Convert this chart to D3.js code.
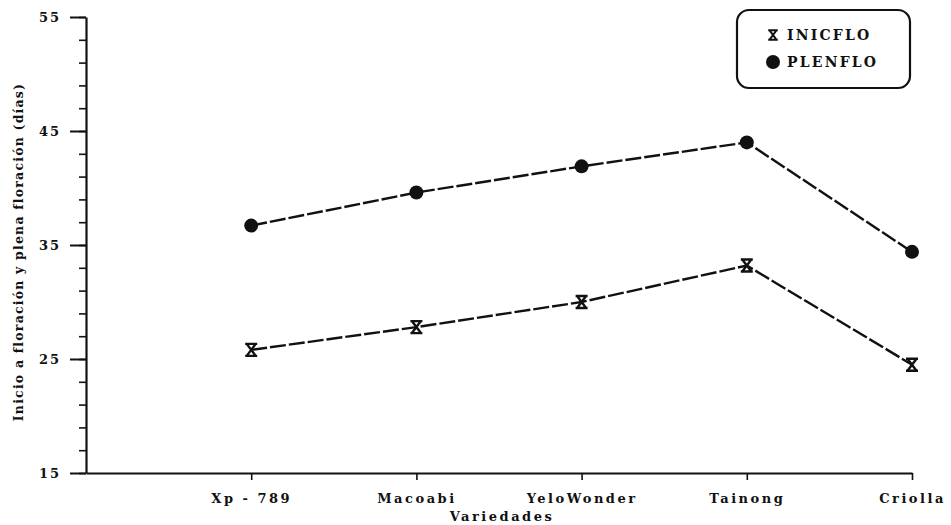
<!DOCTYPE html>
<html><head><meta charset="utf-8">
<script src="https://cdn.jsdelivr.net/npm/d3@7"></script>
<style>
html,body{margin:0;padding:0;background:#fff;}
svg text{font-family:"DejaVu Serif",serif;font-weight:bold;fill:#111;}
</style></head>
<body><svg id="c" width="951" height="525"></svg>
<script>
const categories = ["Xp - 789","Macoabi","YeloWonder","Tainong","Criolla"];
const inicflo = [25.8, 27.8, 30.0, 33.2, 24.5];
const plenflo = [36.7, 39.6, 41.9, 44.0, 34.4];
const yMajorTicks = [15, 25, 35, 45, 55];
const yMinorTicks = d3.range(15, 56, 2);
const seriesNames = ["INICFLO","PLENFLO"];

const svg = d3.select("#c");
const x0 = 86, x1 = 912, yTop = 17, yBot = 473;
const x = d3.scalePoint().domain(["", ...categories]).range([x0, x1]);
const y = d3.scaleLinear().domain([15, 55]).range([yBot, yTop]);

// y axis minor ticks
const gyMin = svg.append("g").attr("transform", `translate(${x0},0)`)
  .call(d3.axisLeft(y).tickValues(yMinorTicks).tickSize(7).tickFormat(""));
gyMin.select(".domain").remove();
gyMin.selectAll("line").attr("stroke","#111").attr("stroke-width",1.6);

const gy = svg.append("g").attr("transform", `translate(${x0},0)`)
  .call(d3.axisLeft(y).tickValues(yMajorTicks).tickSize(16).tickPadding(9).tickSizeOuter(0));
gy.select(".domain").attr("stroke","#111").attr("stroke-width",2.2);
gy.selectAll("line").attr("stroke","#111").attr("stroke-width",2);
gy.selectAll("text").style("font-size","13px").style("letter-spacing","2px");

// x axis
const gx = svg.append("g").attr("transform", `translate(0,${yBot})`)
  .call(d3.axisBottom(x).tickValues(categories).tickSize(7).tickPadding(14).tickSizeOuter(0));
gx.select(".domain").attr("stroke","#111").attr("stroke-width",2.2);
gx.selectAll("line").attr("stroke","#111").attr("stroke-width",1.6);
gx.selectAll("text").style("font-size","13px").style("letter-spacing","2.5px");

svg.append("text").attr("x", (x0+x1)/2 + 3).attr("y", 521)
  .attr("text-anchor","middle").style("font-size","13px").style("letter-spacing","2.5px")
  .text("Variedades");

svg.append("text").attr("transform", `translate(23,252) rotate(-90)`)
  .attr("text-anchor","middle").style("font-size","12.5px").style("letter-spacing","1.2px")
  .text("Inicio a floración y plena floración (días)");

const line = d3.line().x((d,i)=>x(categories[i])).y(d=>y(d));
[inicflo, plenflo].forEach(s=>{
  svg.append("path").datum(s).attr("d", line).attr("fill","none")
    .attr("stroke","#111").attr("stroke-width",2.4).attr("stroke-dasharray","16,3");
});

const hourglass = "M-6,-6H6M-6,6H6M-4.5,-6L4.5,6M4.5,-6L-4.5,6";
svg.append("g").selectAll("path").data(inicflo).join("path")
  .attr("transform",(d,i)=>`translate(${x(categories[i])},${y(d)})`)
  .attr("d", hourglass).attr("fill","none").attr("stroke","#111").attr("stroke-width",2.4);
svg.append("g").selectAll("circle").data(plenflo).join("circle")
  .attr("cx",(d,i)=>x(categories[i])).attr("cy",d=>y(d)).attr("r",7).attr("fill","#111");

// legend
const lg = svg.append("g");
lg.append("rect").attr("x",737).attr("y",10).attr("width",173).attr("height",78).attr("rx",12)
  .attr("fill","#fff").attr("stroke","#111").attr("stroke-width",2.2);
lg.append("path").attr("transform","translate(773,35) scale(0.8)").attr("d", hourglass)
  .attr("fill","none").attr("stroke","#111").attr("stroke-width",2.4);
lg.append("circle").attr("cx",773).attr("cy",62).attr("r",7).attr("fill","#111");
seriesNames.forEach((n,i)=>{
  lg.append("text").attr("x",787).attr("y",40+i*27).style("font-size","14px")
    .style("letter-spacing","2.2px").text(n);
});
</script></body></html>
